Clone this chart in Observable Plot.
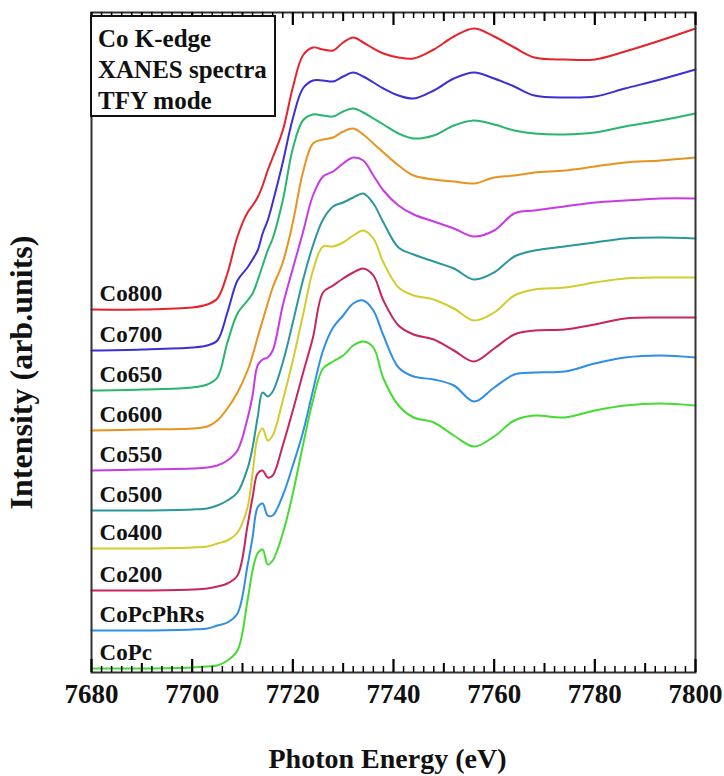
<!DOCTYPE html>
<html>
<head>
<meta charset="utf-8">
<script src="https://cdn.jsdelivr.net/npm/d3@7"></script>
<script src="https://cdn.jsdelivr.net/npm/@observablehq/plot@0.6"></script>
<style>
  html, body { margin: 0; padding: 0; background: #fff; }
  #wrap { position: relative; width: 724px; height: 776px; overflow: hidden; }
  #legendBox {
    position: absolute; left: 90px; top: 15px; width: 186px; height: 102px;
    border: 2px solid #111; background: #fff; white-space: nowrap;
    font-family: "Liberation Serif", "Times New Roman", serif; font-weight: bold;
    font-size: 25px; line-height: 31px; color: #111; padding: 6px 0 0 6px; box-sizing: border-box;
  }
</style>
</head>
<body>
<div id="wrap"></div>
<script>
// Photon energy grid (eV)
const energy = [7680,7690,7700,7703,7705,7707,7709,7711,7712,7713,7714,7715,7716,7718,7720,7722,7724,7726,7728,7730,7732,7734,7736,7738,7741,7744,7748,7752,7756,7760,7764,7768,7774,7780,7786,7793,7800];

// Intensities (arb. units, vertically offset as in the figure)
const co800 = [36.3,36.3,36.5,36.8,37.4,39.9,43.6,46.0,46.7,47.5,48.7,50.2,51.5,54.2,58.5,61.7,62.5,62.3,62.2,63.0,63.5,63.0,62.4,61.9,61.5,61.4,62.3,63.6,64.4,63.6,62.5,61.5,61.3,61.3,62.1,63.2,64.4];
const co700 = [32.2,32.3,32.5,32.7,33.2,36.0,39.2,40.5,41.3,42.2,43.9,45.2,47.0,51.0,55.4,58.4,59.2,59.2,59.1,59.6,60.0,59.6,59.0,58.4,57.7,57.4,58.2,59.4,60.0,59.4,58.6,57.7,57.5,57.6,58.4,59.3,60.3];
const co650 = [28.2,28.3,28.5,28.8,29.5,33.0,35.9,37.2,37.9,39.2,40.7,42.2,43.4,47.2,52.4,55.2,55.8,55.7,55.6,56.1,56.4,56.0,55.4,54.8,53.9,53.4,53.7,54.7,55.2,54.8,54.2,53.9,53.8,54.0,54.6,55.2,55.9];
const co600 = [24.2,24.3,24.4,24.6,25.2,26.4,28.0,30.2,31.7,33.5,35.2,36.9,38.5,41.0,45.0,50.0,52.9,53.3,53.5,54.1,54.4,53.8,52.9,52.0,50.7,49.7,49.3,49.1,48.9,49.5,49.7,50.0,50.2,50.6,51.0,51.2,51.5];
const co550 = [20.2,20.3,20.4,20.5,20.7,21.2,22.2,25.4,27.7,30.7,31.3,31.5,32.2,36.7,40.4,44.0,47.7,49.6,50.1,50.9,51.5,51.2,49.7,48.2,46.7,45.8,45.1,44.4,43.6,44.2,45.9,46.2,46.6,47.0,47.2,47.4,47.4];
const co500 = [16.2,16.2,16.3,16.4,16.7,17.2,18.0,20.4,22.5,25.5,28.0,27.6,28.1,31.0,35.0,39.2,42.7,45.3,46.6,47.0,47.5,47.9,46.9,45.0,42.5,41.8,41.1,40.4,39.3,40.0,41.6,42.2,42.6,43.0,43.4,43.5,43.4];
const co400 = [12.4,12.4,12.5,12.6,12.9,13.2,14.0,16.5,19.9,23.5,24.4,23.2,23.7,27.2,31.2,35.7,40.2,42.6,42.6,43.0,43.7,44.2,43.4,41.0,38.5,37.7,37.3,36.4,35.2,36.0,37.7,38.3,38.5,39.0,39.4,39.5,39.5];
const co200 = [8.2,8.2,8.3,8.4,8.6,8.9,9.7,14.7,17.5,19.9,20.2,19.5,19.7,22.7,26.2,29.9,33.5,38.0,38.7,39.4,40.0,40.4,39.7,37.2,34.7,33.8,33.3,32.2,31.1,32.4,33.8,34.2,34.3,34.8,35.4,35.5,35.5];
const coPcPhRs = [4.2,4.2,4.3,4.4,4.7,5.0,5.9,10.7,13.5,16.5,16.9,15.7,15.7,17.7,20.7,24.0,28.2,32.2,34.5,35.7,36.9,37.2,36.2,33.7,30.5,29.6,29.3,28.7,27.1,28.5,29.8,30.0,30.1,30.9,31.5,31.7,31.5];
const coPc = [0.4,0.4,0.5,0.6,0.7,1.2,2.2,7.2,10.2,11.9,12.3,10.8,11.2,13.9,17.9,22.7,27.2,30.4,31.1,31.7,32.7,33.1,32.5,29.4,26.7,25.5,25.0,23.7,22.6,23.6,25.2,25.7,25.5,26.2,26.7,26.9,26.7];

const sampleNames = ["Co800","Co700","Co650","Co600","Co550","Co500","Co400","Co200","CoPcPhRs","CoPc"];
const sampleValues = [co800,co700,co650,co600,co550,co500,co400,co200,coPcPhRs,coPc];
const sampleColors = ["#e8222b","#3a2fd8","#27b570","#e8921f","#c93ae6","#2a979c","#d2cc2c","#c8245e","#2f8ee8","#45dc32"];

const xTicksMajor = [7680,7700,7720,7740,7760,7780,7800];
const xTicksMid = [7690,7710,7730,7750,7770,7790];
const xTicksMinor = d3.range(7680, 7801, 2).filter(v => v % 10 !== 0);

const rows = [];
sampleNames.forEach((name, i) => {
  energy.forEach((e, j) => rows.push({sample: name, energy: e, intensity: sampleValues[i][j]}));
});
const labelRows = sampleNames.map((name, i) => ({sample: name, energy: 7681.6, intensity: sampleValues[i][0]}));

const serif = "'Liberation Serif', 'Times New Roman', serif";
const yDomain = [0, 66];
const H = 776, MT = 12, MB = 104;
const unitsPerPx = (yDomain[1] - yDomain[0]) / (H - MT - MB);

// inward tick marks: short rules at the bottom and top edges of the frame
function inwardTicks(values, len, side, sw) {
  const l = len * unitsPerPx;
  return Plot.ruleX(values, {
    x: d => d,
    y1: side === "bottom" ? () => yDomain[0] : () => yDomain[1] - l,
    y2: side === "bottom" ? () => yDomain[0] + l : () => yDomain[1],
    stroke: "black", strokeWidth: sw
  });
}

const chart = Plot.plot({
  width: 724,
  height: H,
  marginTop: MT,
  marginBottom: MB,
  marginLeft: 91,
  marginRight: 29,
  style: {fontFamily: serif},
  x: {domain: [7680, 7800], axis: null},
  y: {domain: yDomain, axis: null},
  color: {domain: sampleNames, range: sampleColors},
  marks: [
    Plot.line(rows, {x: "energy", y: "intensity", z: "sample", stroke: "sample", strokeWidth: 2, curve: "catmull-rom"}),
    Plot.text(labelRows, {x: "energy", y: "intensity", text: "sample", dy: -16, textAnchor: "start", fontSize: 23, fontWeight: "bold", fill: "#111", fontFamily: serif}),
    Plot.axisX({anchor: "bottom", ticks: xTicksMajor, tickSize: 0, tickPadding: 11, label: null, tickFormat: d => String(d), fontSize: 27, fontWeight: "bold", fill: "#111", fontFamily: serif}),
    Plot.frame({stroke: "#333", strokeWidth: 2}),
    inwardTicks(xTicksMinor, 6, "bottom", 1.5),
    inwardTicks(xTicksMid, 9, "bottom", 2),
    inwardTicks(xTicksMajor, 13, "bottom", 2.2),
    inwardTicks(xTicksMinor, 6, "top", 1.5),
    inwardTicks(xTicksMid, 9, "top", 2),
    inwardTicks(xTicksMajor, 13, "top", 2.2),
    Plot.text(["Photon Energy (eV)"], {frameAnchor: "bottom", dx: -6, dy: 95, fontSize: 28, fontWeight: "bold", fill: "#111", fontFamily: serif}),
    Plot.text(["Intensity (arb.units)"], {frameAnchor: "left", dx: -70, dy: 30, rotate: -90, textAnchor: "middle", fontSize: 32, fontWeight: "bold", fill: "#111", fontFamily: serif})
  ]
});

const wrap = document.getElementById("wrap");
wrap.appendChild(chart);
const box = document.createElement("div");
box.id = "legendBox";
box.innerHTML = "Co K-edge<br>XANES spectra<br>TFY mode";
wrap.appendChild(box);
</script>
</body>
</html>
